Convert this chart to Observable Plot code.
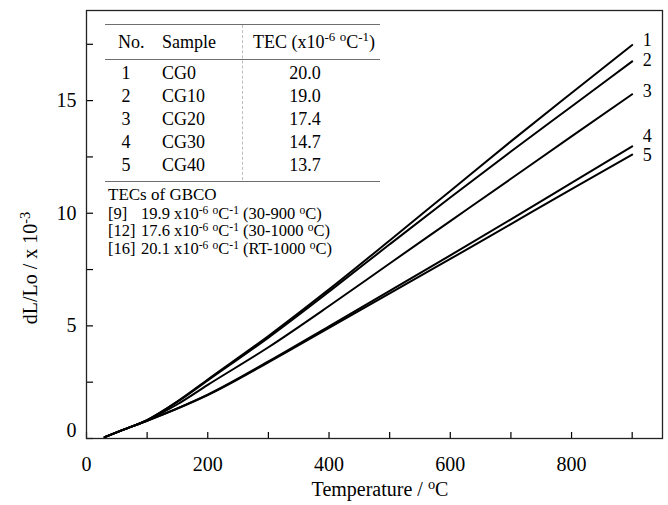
<!DOCTYPE html>
<html>
<head>
<meta charset="utf-8">
<script src="https://cdn.jsdelivr.net/npm/d3@7"></script>
<script src="https://cdn.jsdelivr.net/npm/@observablehq/plot@0.6"></script>
<style>
  html, body { margin: 0; padding: 0; background: #fff; }
  #wrap { position: relative; width: 668px; height: 505px; font-family: "Liberation Serif", "Times New Roman", serif; color: #000; }
  #wrap svg { position: absolute; left: 0; top: 0; }
  .t { position: absolute; white-space: nowrap; line-height: 0.9; transform: translate(0, -50%); }
  .c { transform: translate(-50%, -50%); }
  sup { font-size: 0.72em; vertical-align: 0.5em; line-height: 0; }
  .note sup { font-size: 0.7em; vertical-align: 0.4em; }
  .hl { position: absolute; height: 0; border-top: 1.5px solid #6e6e6e; }
</style>
</head>
<body>
<div id="wrap"></div>
<script>
// ---- data ----
const temperature = [30, 60, 100, 150, 200, 300, 400, 500, 600, 700, 800, 900];
const curve1 = [0.06, 0.38, 0.82, 1.65, 2.62, 4.55, 6.62, 8.79, 10.99, 13.19, 15.34, 17.47];
const curve2 = [0.06, 0.38, 0.82, 1.63, 2.58, 4.48, 6.52, 8.62, 10.70, 12.74, 14.74, 16.74];
const curve3 = [0.06, 0.38, 0.81, 1.52, 2.38, 4.05, 5.88, 7.77, 9.65, 11.53, 13.41, 15.28];
const curve4 = [0.06, 0.38, 0.79, 1.34, 1.95, 3.42, 4.98, 6.55, 8.13, 9.73, 11.35, 12.97];
const curve5 = [0.06, 0.38, 0.79, 1.33, 1.93, 3.38, 4.91, 6.44, 7.97, 9.52, 11.07, 12.60];
const curveNames = ["1", "2", "3", "4", "5"];

const xTickLabels = [0, 200, 400, 600, 800];
const xMinorTicks = [100, 300, 500, 700, 900];
const yTickLabels = [0, 5, 10, 15];
const yMinorTicks = [2.5, 7.5, 12.5, 17.5];

const tableNo = ["1", "2", "3", "4", "5"];
const tableSample = ["CG0", "CG10", "CG20", "CG30", "CG40"];
const tableTEC = ["20.0", "19.0", "17.4", "14.7", "13.7"];
const refNames = ["[9]", "[12]", "[16]"];
const refValues = ["19.9", "17.6", "20.1"];
const refRanges = ["30-900", "30-1000", "RT-1000"];

// ---- build table for plotting ----
const allCurves = [curve1, curve2, curve3, curve4, curve5];
const rows = [];
allCurves.forEach((vals, i) => vals.forEach((v, j) => rows.push({series: curveNames[i], T: temperature[j], v})));
const ends = allCurves.map((vals, i) => ({series: curveNames[i], T: temperature[temperature.length - 1], v: vals[vals.length - 1]}));

const W = 668, H = 505, mL = 86, mR = 6, mT = 10, mB = 67;
const innerW = W - mL - mR, innerH = H - mT - mB;
const labelDy = [-5, -1, -3, -10, 1];

const chart = Plot.plot({
  width: W, height: H,
  marginLeft: mL, marginRight: mR, marginTop: mT, marginBottom: mB,
  x: {domain: [0, 950]},
  y: {domain: [0, 19]},
  style: {fontFamily: "Liberation Serif, Times New Roman, serif", fontSize: "20px", color: "#000", background: "transparent"},
  marks: [
    Plot.tickX([...xTickLabels, ...xMinorTicks], {x: d => d, insetTop: innerH - 6, stroke: "#000", strokeWidth: 1.2}),
    Plot.tickY([...yTickLabels, ...yMinorTicks], {y: d => d, insetRight: innerW - 7, stroke: "#000", strokeWidth: 1.2}),
    Plot.axisX(xTickLabels, {tickSize: 0, tickPadding: 18, label: null, fontSize: 20}),
    Plot.axisY(yTickLabels.filter(d => d !== 0), {tickSize: 0, tickPadding: 10, label: null, fontSize: 20}),
    Plot.axisY(yTickLabels.filter(d => d === 0), {tickSize: 0, tickPadding: 10, label: null, fontSize: 20, dy: -8}),
    Plot.line(rows, {x: "T", y: "v", z: "series", stroke: "#000", strokeWidth: 2, curve: "monotone-x"}),
    ...ends.map((e, i) => Plot.text([e], {x: "T", y: "v", text: "series", dx: 15, dy: labelDy[i], fontSize: 18, textAnchor: "middle"})),
    Plot.frame({stroke: "#222", strokeWidth: 1.3})
  ]
});

const wrap = document.getElementById("wrap");
wrap.appendChild(chart);

function addText(html, x, y, size, cls) {
  const d = document.createElement("div");
  d.className = "t" + (cls ? " " + cls : "");
  d.style.left = x + "px";
  d.style.top = y + "px";
  d.style.fontSize = size + "px";
  d.innerHTML = html;
  wrap.appendChild(d);
  return d;
}
function addLine(x1, x2, y) {
  const d = document.createElement("div");
  d.className = "hl";
  d.style.left = x1 + "px";
  d.style.top = y + "px";
  d.style.width = (x2 - x1) + "px";
  wrap.appendChild(d);
}

// axis titles
const yl = addText("dL/Lo / x 10<sup>-3</sup>", 30, 268, 20, "c");
yl.style.transform = "translate(-50%, -50%) rotate(-90deg)";
addText("Temperature / <sup>o</sup>C", 380, 489, 20, "c");

// inset table
addLine(105, 380, 23.5);
addLine(105, 380, 58.5);
addLine(105, 380, 180.5);
const vd = document.createElement("div");
vd.style.cssText = "position:absolute;left:241.5px;top:25px;height:155px;width:0;border-left:1px dashed #bdbdbd;";
wrap.appendChild(vd);
addText("No.", 118, 42, 18);
addText("Sample", 162, 42, 18);
addText("TEC (x10<sup>-6</sup> <sup>o</sup>C<sup>-1</sup>)", 253, 42, 18);
tableNo.forEach((n, i) => {
  const y = 73 + i * 23;
  addText(n, 126, y, 18, "c");
  addText(tableSample[i], 162, y, 18);
  addText(tableTEC[i], 305, y, 18, "c");
});
addText("TECs of GBCO", 108, 195, 17);
refNames.forEach((r, i) => {
  const y = 214 + i * 17.4;
  addText(r, 108, y, 16.5, "note");
  addText(refValues[i] + " x10<sup>-6</sup> <sup>o</sup>C<sup>-1</sup> (" + refRanges[i] + " <sup>o</sup>C)", 141, y, 16.5, "note");
});
</script>
</body>
</html>
